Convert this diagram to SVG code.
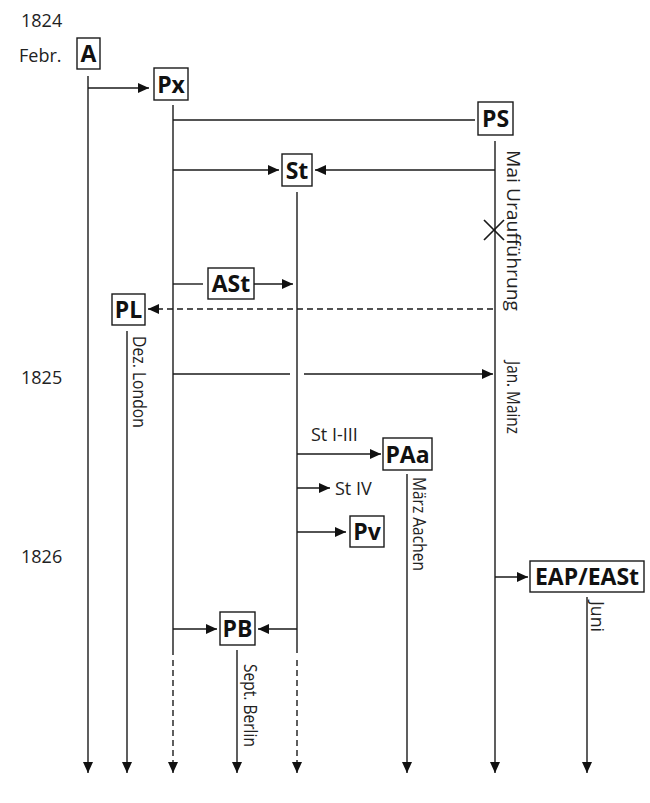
<svg xmlns="http://www.w3.org/2000/svg" width="650" height="803" viewBox="0 0 650 803">
<style>
.ln{stroke:#1a1a1a;stroke-width:1.4;fill:none}
.dash{stroke-dasharray:6 4}
.box{fill:#fff;stroke:#1a1a1a;stroke-width:1.4}
.lb{font-family:"Open Sans","Noto Sans",sans-serif;font-weight:bold;font-size:23px;fill:#111;text-anchor:middle}
.t{font-family:"Open Sans","Noto Sans",sans-serif;font-size:18px;fill:#222}
.r{font-family:"Open Sans","Noto Sans",sans-serif;font-size:17.5px;fill:#222}
</style>
<defs>
<marker id="ah" viewBox="0 0 11 10" refX="11" refY="5" markerWidth="11" markerHeight="10" markerUnits="userSpaceOnUse" orient="auto">
<path d="M0,0 L11,5 L0,10 z" fill="#111"/>
</marker>
</defs>
<rect width="650" height="803" fill="#fff"/>
<g id="labels">
<text class="t" x="21" y="27">1824</text>
<text class="t" x="19" y="62">Febr.</text>
<text class="t" x="21" y="384">1825</text>
<text class="t" x="21" y="563">1826</text>
<text class="t" x="311" y="441">St I-III</text>
<text class="t" x="335" y="495">St IV</text>
<text class="r" transform="translate(507,150) rotate(90)" textLength="161" lengthAdjust="spacingAndGlyphs" style="font-size:19px">Mai Uraufführung</text>
<text class="r" transform="translate(133,336) rotate(90)" textLength="92" lengthAdjust="spacingAndGlyphs">Dez. London</text>
<text class="r" transform="translate(507,361) rotate(90)" textLength="73" lengthAdjust="spacingAndGlyphs">Jan. Mainz</text>
<text class="r" transform="translate(413,477) rotate(90)" textLength="94" lengthAdjust="spacingAndGlyphs">März Aachen</text>
<text class="r" transform="translate(591,601) rotate(90)" textLength="31" lengthAdjust="spacingAndGlyphs">Juni</text>
<text class="r" transform="translate(244,664) rotate(90)" textLength="83" lengthAdjust="spacingAndGlyphs">Sept. Berlin</text>
</g>
<g id="connectors">
<line class="ln" x1="88" y1="76" x2="88" y2="773" marker-end="url(#ah)"/>
<line class="ln" x1="88" y1="88" x2="149" y2="88" marker-end="url(#ah)"/>
<line class="ln" x1="173" y1="105" x2="173" y2="655"/>
<line class="ln dash" x1="173" y1="660" x2="173" y2="773" marker-end="url(#ah)"/>
<line class="ln" x1="173" y1="120" x2="475" y2="120"/>
<line class="ln" x1="495" y1="141" x2="495" y2="773" marker-end="url(#ah)"/>
<line class="ln" x1="173" y1="170" x2="279" y2="170" marker-end="url(#ah)"/>
<line class="ln" x1="495" y1="170" x2="315" y2="170" marker-end="url(#ah)"/>
<line class="ln" x1="297" y1="192" x2="297" y2="653"/>
<line class="ln dash" x1="297" y1="660" x2="297" y2="773" marker-end="url(#ah)"/>
<path class="ln" d="M484,220 L504,240 M504,220 L484,240" style="stroke-width:1.7"/>
<line class="ln" x1="173" y1="284" x2="203" y2="284"/>
<line class="ln" x1="254" y1="284" x2="293" y2="284" marker-end="url(#ah)"/>
<line class="ln dash" x1="493" y1="309" x2="148" y2="309" marker-end="url(#ah)"/>
<line class="ln" x1="127" y1="331" x2="127" y2="773" marker-end="url(#ah)"/>
<line class="ln" x1="173" y1="374" x2="290" y2="374"/>
<line class="ln" x1="304" y1="374" x2="493" y2="374" marker-end="url(#ah)"/>
<line class="ln" x1="297" y1="454" x2="381" y2="454" marker-end="url(#ah)"/>
<line class="ln" x1="407" y1="474" x2="407" y2="773" marker-end="url(#ah)"/>
<line class="ln" x1="297" y1="488" x2="330" y2="488" marker-end="url(#ah)"/>
<line class="ln" x1="297" y1="532" x2="346" y2="532" marker-end="url(#ah)"/>
<line class="ln" x1="495" y1="577" x2="528" y2="577" marker-end="url(#ah)"/>
<line class="ln" x1="587" y1="597" x2="587" y2="773" marker-end="url(#ah)"/>
<line class="ln" x1="173" y1="629" x2="217" y2="629" marker-end="url(#ah)"/>
<line class="ln" x1="297" y1="629" x2="258" y2="629" marker-end="url(#ah)"/>
<line class="ln" x1="237" y1="650" x2="237" y2="773" marker-end="url(#ah)"/>
</g>
<g id="A"><rect class="box" x="77" y="38" width="23" height="31"/><text class="lb" x="88.5" y="62">A</text></g>
<g id="Px"><rect class="box" x="154" y="68" width="34" height="32"/><text class="lb" x="171" y="92.5">Px</text></g>
<g id="PS"><rect class="box" x="478" y="102" width="35" height="33"/><text class="lb" x="495.5" y="127">PS</text></g>
<g id="St"><rect class="box" x="282" y="154" width="30" height="32"/><text class="lb" x="297" y="178.5">St</text></g>
<g id="ASt"><rect class="box" x="208" y="268" width="46" height="31"/><text class="lb" x="231" y="292">ASt</text></g>
<g id="PL"><rect class="box" x="112" y="294" width="33" height="31"/><text class="lb" x="128.5" y="318">PL</text></g>
<g id="PAa"><rect class="box" x="383" y="438" width="49" height="32"/><text class="lb" x="407.5" y="462.5">PAa</text></g>
<g id="Pv"><rect class="box" x="350" y="516" width="34" height="31"/><text class="lb" x="367" y="540">Pv</text></g>
<g id="EAP"><rect class="box" x="530" y="561" width="114" height="31"/><text class="lb" x="587" y="585">EAP/EASt</text></g>
<g id="PB"><rect class="box" x="220" y="612" width="35" height="33"/><text class="lb" x="237.5" y="637">PB</text></g>
</svg>
